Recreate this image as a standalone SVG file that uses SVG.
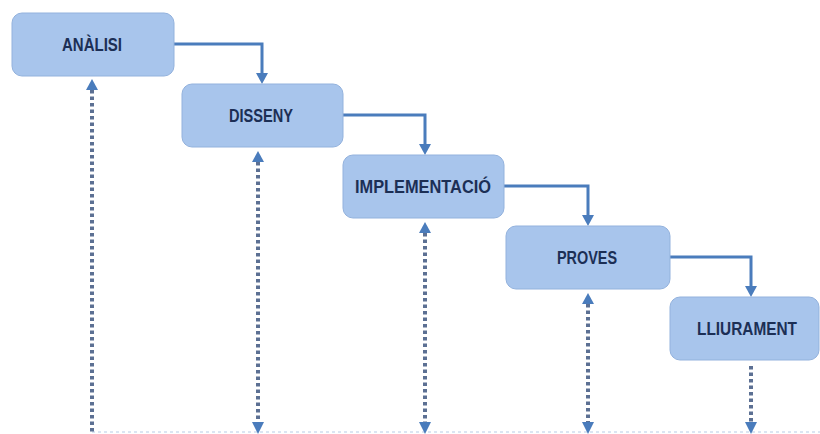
<svg xmlns="http://www.w3.org/2000/svg" width="820" height="434" viewBox="0 0 820 434">
<style>
.box{fill:#a8c5ec;stroke:#93b2dd;stroke-width:1}
.lbl{font-family:"Liberation Sans",Arial,sans-serif;font-weight:bold;font-size:19px;fill:#1c2f55;text-anchor:middle}
.flow{fill:none;stroke:#4a7cbc;stroke-width:3}
.dot{fill:none;stroke:#5c7093;stroke-width:4;stroke-dasharray:3.5 3}
.base{fill:none;stroke:#dbe5f2;stroke-width:2;stroke-dasharray:3 3}
.head{fill:#4a7cbc}
</style>
<rect width="820" height="434" fill="#ffffff"/>
<g id="connectors">
<path class="flow" d="M174,44 H262 V74"/>
<path class="head" d="M256,73 H268 L262,84 Z"/>
<path class="flow" d="M343,115 H425 V145"/>
<path class="head" d="M419,144 H431 L425,155 Z"/>
<path class="flow" d="M503,186 H588 V216"/>
<path class="head" d="M582,215 H594 L588,226 Z"/>
<path class="flow" d="M670,257 H751 V287"/>
<path class="head" d="M745,286 H757 L751,297 Z"/>
<path class="base" d="M92,432 H820"/>
<path class="dot" d="M92,90 V434"/>
<path class="head" d="M86,90 H98 L92,79 Z"/>
<path class="dot" d="M258,162 V422"/>
<path class="head" d="M252,162 H264 L258,151 Z"/>
<path class="head" d="M252,422 H264 L258,434 Z"/>
<path class="dot" d="M425,233 V422"/>
<path class="head" d="M419,233 H431 L425,222 Z"/>
<path class="head" d="M419,422 H431 L425,434 Z"/>
<path class="dot" d="M588,304 V422"/>
<path class="head" d="M582,304 H594 L588,293 Z"/>
<path class="head" d="M582,422 H594 L588,434 Z"/>
<path class="dot" d="M751,366 V422"/>
<path class="head" d="M745,422 H757 L751,434 Z"/>
</g>
<g id="analisi">
<rect class="box" x="12" y="13" width="162" height="63" rx="10"/>
<text class="lbl" x="92" y="51" textLength="60" lengthAdjust="spacingAndGlyphs">ANÀLISI</text>
</g>
<g id="disseny">
<rect class="box" x="182" y="84" width="161" height="63" rx="10"/>
<text class="lbl" x="261" y="122" textLength="64" lengthAdjust="spacingAndGlyphs">DISSENY</text>
</g>
<g id="implementacio">
<rect class="box" x="343" y="155" width="161" height="63" rx="10"/>
<text class="lbl" x="423" y="193" textLength="136" lengthAdjust="spacingAndGlyphs">IMPLEMENTACIÓ</text>
</g>
<g id="proves">
<rect class="box" x="506" y="226" width="164" height="63" rx="10"/>
<text class="lbl" x="587" y="264" textLength="60" lengthAdjust="spacingAndGlyphs">PROVES</text>
</g>
<g id="lliurament">
<rect class="box" x="670" y="297" width="149" height="63" rx="10"/>
<text class="lbl" x="747" y="335" style="font-size:18px" textLength="100" lengthAdjust="spacingAndGlyphs">LLIURAMENT</text>
</g>
</svg>
